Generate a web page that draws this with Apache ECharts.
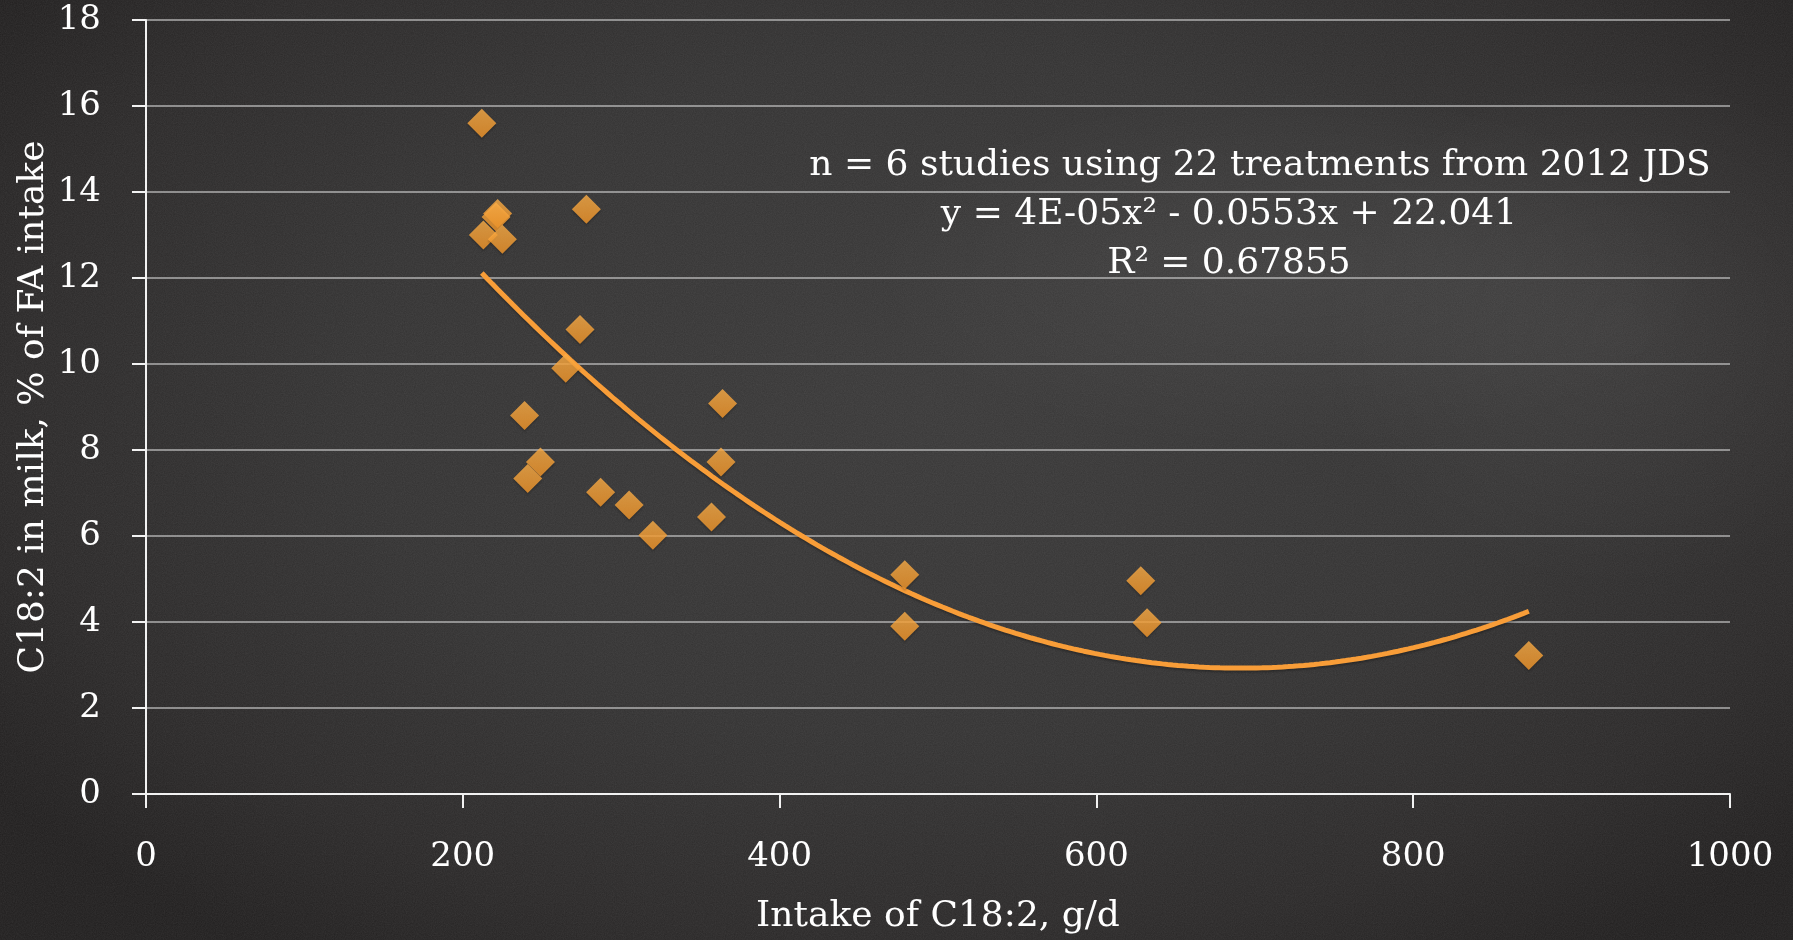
<!DOCTYPE html>
<html>
<head>
<meta charset="utf-8">
<title>C18:2 in milk vs intake</title>
<script src="https://cdn.jsdelivr.net/npm/echarts@6/dist/echarts.min.js"></script>
<style>
  html, body { margin: 0; padding: 0; width: 1793px; height: 940px; overflow: hidden; }
  body {
    position: relative;
    background:
      radial-gradient(ellipse 420px 180px at 1290px 270px, rgba(255,255,255,0.05), rgba(255,255,255,0) 100%),
      radial-gradient(ellipse 300px 260px at 1620px 330px, rgba(255,255,255,0.05), rgba(255,255,255,0) 100%),
      radial-gradient(ellipse 1150px 680px at 52% 42%, #393838 0%, #333232 50%, #2a2828 80%, #201e1e 100%);
  }
  /* chalkboard grain */
  #grain {
    position: absolute; left: 0; top: 0; width: 1793px; height: 940px; opacity: 0.22; pointer-events: none;
    background-image: url("data:image/svg+xml;utf8,<svg xmlns='http://www.w3.org/2000/svg' width='400' height='400'><filter id='n'><feTurbulence type='fractalNoise' baseFrequency='0.9' numOctaves='2' stitchTiles='stitch'/><feColorMatrix values='0 0 0 0 0.6  0 0 0 0 0.6  0 0 0 0 0.6  0 0 0 0.5 0'/></filter><rect width='400' height='400' filter='url(%23n)'/></svg>");
  }
  #chart { position: absolute; left: 0; top: 0; width: 1793px; height: 940px; }
</style>
</head>
<body>
<div id="grain"></div>
<div id="chart"></div>
<script>
// Intake of C18:2 (g/d) and C18:2 in milk (% of FA intake), one pair per treatment
const intake = [212, 222, 221, 213, 225, 278, 274, 265, 239, 249, 241, 287, 305, 320, 364, 363, 357, 479, 479, 628, 632, 873];
const milkC182 = [15.6, 13.5, 13.42, 13.0, 12.9, 13.6, 10.8, 9.9, 8.8, 7.72, 7.34, 7.02, 6.72, 6.02, 9.08, 7.72, 6.44, 5.1, 3.9, 4.96, 3.98, 3.22];

// Quadratic trendline coefficients: y = c0 + c1*x + c2*x^2
const trendCoef = [22.041, -0.0553, 4e-5];
const trendLabel = ['n = 6 studies using 22 treatments from 2012 JDS', 'y = 4E-05x\u00B2 - 0.0553x + 22.041', 'R\u00B2 = 0.67855'];

const xTitle = 'Intake of C18:2, g/d';
const yTitle = 'C18:2 in milk, % of FA intake';

const xTicks = { min: 0, max: 1000, step: 200 };
const yTicks = { min: 0, max: 18, step: 2 };

const points = intake.map((x, i) => [x, milkC182[i]]);

// sample the fitted polynomial across the observed intake range
const xLo = Math.min(...intake), xHi = Math.max(...intake);
const trend = [];
for (let k = 0; k <= 200; k++) {
  const x = xLo + (xHi - xLo) * k / 200;
  trend.push([x, trendCoef[0] + trendCoef[1] * x + trendCoef[2] * x * x]);
}

const FONT = 'DejaVu Serif';
const INK = '#ffffff';
const chart = echarts.init(document.getElementById('chart'), null, { renderer: 'canvas' });

const textEl = (t, x, y, size, rot) => ({
  type: 'text', x: x, y: y, rotation: rot || 0, z: 10,
  style: { text: t, fill: INK, font: size + 'px "' + FONT + '"', textAlign: 'center', textVerticalAlign: 'middle' }
});

chart.setOption({
  backgroundColor: 'transparent',
  animation: false,
  grid: { left: 146, right: 63, top: 20, bottom: 145, containLabel: false },
  xAxis: {
    type: 'value', min: xTicks.min, max: xTicks.max, interval: xTicks.step,
    name: xTitle, nameLocation: 'middle', nameGap: 105,
    nameTextStyle: { color: INK, fontFamily: FONT, fontSize: 36 },
    axisLine: { show: true, lineStyle: { color: '#f2f2f2', width: 2 } },
    axisTick: { show: true, inside: false, length: 14, lineStyle: { color: '#f2f2f2', width: 2 } },
    axisLabel: { color: INK, fontFamily: FONT, fontSize: 34, margin: 46, formatter: v => String(v) },
    splitLine: { show: false }
  },
  yAxis: {
    type: 'value', min: yTicks.min, max: yTicks.max, interval: yTicks.step,
    axisLine: { show: true, lineStyle: { color: '#f2f2f2', width: 2 } },
    axisTick: { show: true, inside: false, length: 14, lineStyle: { color: '#f2f2f2', width: 2 } },
    axisLabel: { color: INK, fontFamily: FONT, fontSize: 34, margin: 45, formatter: v => String(v) },
    splitLine: { show: true, lineStyle: { color: 'rgba(205,205,205,0.8)', width: 1.5 } }
  },
  graphic: [
    textEl(yTitle, 34, 407, 36, Math.PI / 2),
    textEl(trendLabel[0], 1260, 166, 36),
    textEl(trendLabel[1], 1229, 215, 36),
    textEl(trendLabel[2], 1229, 264, 36)
  ],
  series: [
    {
      type: 'line', data: trend, showSymbol: false, smooth: false, z: 3,
      lineStyle: { color: '#f89d38', width: 5, shadowColor: 'rgba(0,0,0,0.25)', shadowBlur: 2, shadowOffsetY: 2 }
    },
    {
      type: 'scatter', data: points, symbol: 'diamond', symbolSize: 29, z: 4,
      itemStyle: {
        color: new echarts.graphic.LinearGradient(0, 0, 0, 1, [
          { offset: 0, color: '#ffb048' }, { offset: 1, color: '#f6982a' }
        ]),
        shadowColor: 'rgba(0,0,0,0.25)', shadowBlur: 2, shadowOffsetY: 2
      }
    }
  ]
});
</script>
</body>
</html>
